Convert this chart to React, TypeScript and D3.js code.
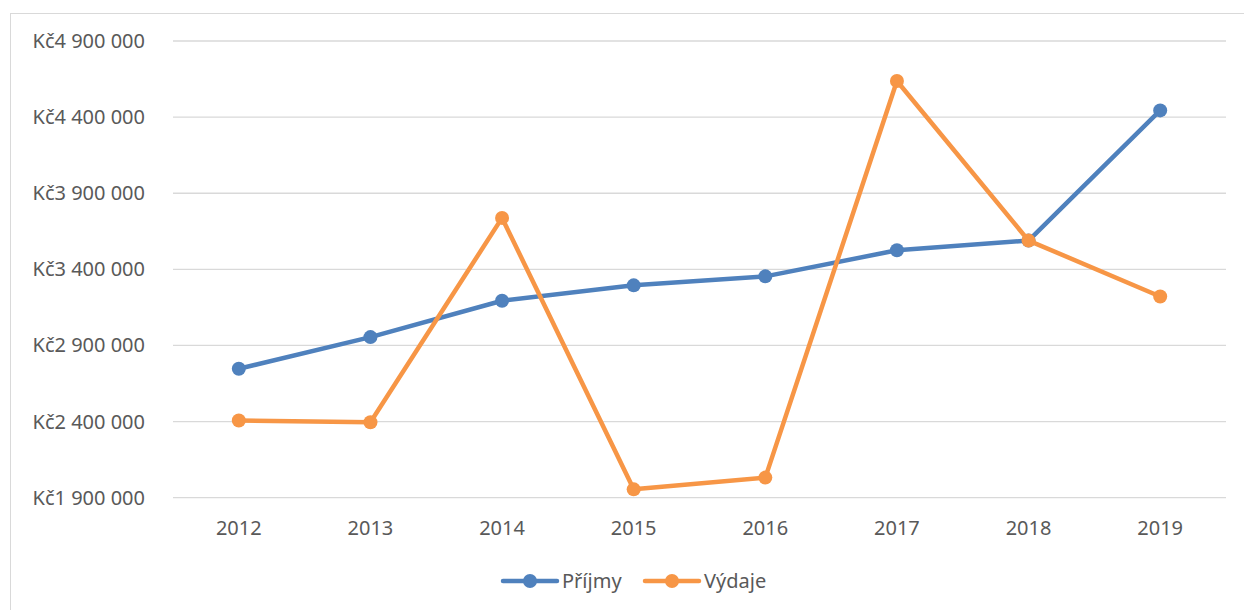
import React from 'react';
import * as d3 from 'd3';

const years = ['2012', '2013', '2014', '2015', '2016', '2017', '2018', '2019'];
const prijmy = [2747000, 2955000, 3194000, 3295000, 3354000, 3525000, 3589000, 4444000];
const vydaje = [2407000, 2396000, 3738000, 1955000, 2032000, 4637000, 3589000, 3222000];
const yTicks = [1900000, 2400000, 2900000, 3400000, 3900000, 4400000, 4900000];

const series = [
    { name: 'Příjmy', values: prijmy, color: '#4F81BD' },
    { name: 'Výdaje', values: vydaje, color: '#F79646' },
];

const W = 1244;
const H = 610;
const FONT = '"Noto Sans", "Open Sans", sans-serif';
const TEXT = '#595959';

const fmt = (v: number) => 'Kč' + d3.format(',')(v).replace(/,/g, ' ');

const App: React.FC = () => {
    const x = d3.scaleBand<string>().domain(years).range([173, 1226]);
    const y = d3.scaleLinear().domain([1900000, 4900000]).range([497.7, 41]);

    const line = d3.line<number>()
        .x((_, i) => (x(years[i]) as number) + x.bandwidth() / 2)
        .y(d => y(d));

    return (
        <svg width={W} height={H} style={{ position: 'fixed', left: 0, top: 0, background: '#fff' }}>
            <rect x={10.5} y={13.5} width={1400} height={800} fill="#fff" stroke="#d9d9d9" strokeWidth={1} />
            <g>
                {yTicks.map(t => (
                    <g key={t}>
                        <line x1={173} x2={1226} y1={y(t)} y2={y(t)} stroke="#d9d9d9" strokeWidth={1.3} />
                        <text x={145} y={y(t)} dy="0.35em" textAnchor="end" fontFamily={FONT} fontSize={20} fill={TEXT}>
                            {fmt(t)}
                        </text>
                    </g>
                ))}
                {years.map(yr => (
                    <text key={yr} x={(x(yr) as number) + x.bandwidth() / 2} y={535} textAnchor="middle"
                        fontFamily={FONT} fontSize={20} fill={TEXT}>
                        {yr}
                    </text>
                ))}
            </g>
            {series.map(s => (
                <g key={s.name}>
                    <path d={line(s.values) || ''} fill="none" stroke={s.color} strokeWidth={4.5}
                        strokeLinejoin="round" strokeLinecap="round" />
                    {s.values.map((v, i) => (
                        <circle key={i} cx={(x(years[i]) as number) + x.bandwidth() / 2} cy={y(v)} r={7} fill={s.color} />
                    ))}
                </g>
            ))}
            <g>
                {series.map((s, i) => {
                    const lx = 503 + i * 142;
                    return (
                        <g key={s.name}>
                            <line x1={lx} x2={lx + 54} y1={581} y2={581} stroke={s.color} strokeWidth={4.5} strokeLinecap="round" />
                            <circle cx={lx + 27} cy={581} r={7} fill={s.color} />
                            <text x={lx + 59} y={581} dy="0.35em" fontFamily={FONT} fontSize={20} fill={TEXT}>{s.name}</text>
                        </g>
                    );
                })}
            </g>
        </svg>
    );
};

export default App;
